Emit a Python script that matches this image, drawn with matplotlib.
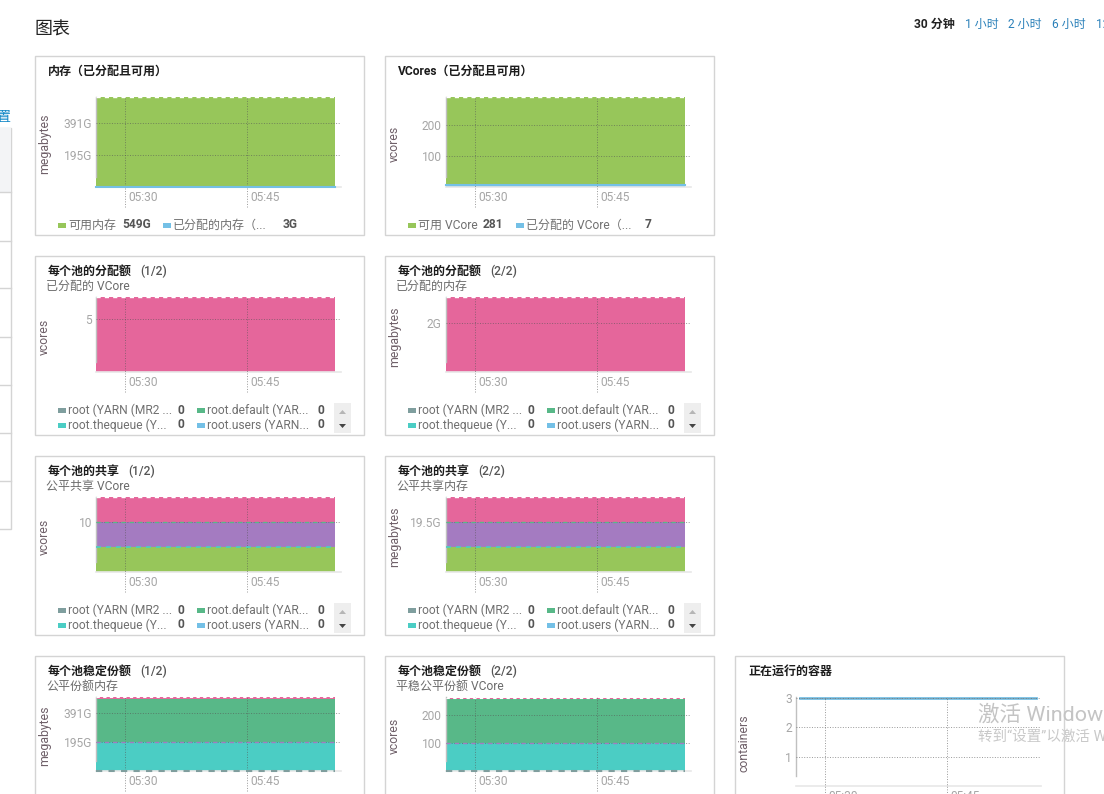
#!/usr/bin/env python
import matplotlib
matplotlib.use('Agg')
import matplotlib.pyplot as plt
import matplotlib.patches as patches
from matplotlib.transforms import ScaledTranslation

plt.rcParams['font.family'] = ['Roboto', 'Noto Sans CJK SC', 'DejaVu Sans']

W, H = 1104, 794
PX = 72.0 / 100  # font size for 1 px at dpi 100

GREEN = '#97c65a'
BLUE = '#74c0e6'
PINK = '#e5669b'
PURPLE = '#a47bc1'
TEAL = '#4bcdc4'
DKGREEN = '#58b888'
GRAY = '#7f9e9e'

# minutes since midnight, 05:26.5 to 05:56
times = [326.5, 332, 338, 344, 350, 355.9]
time_ticks = [330, 345]
time_labels = ['05:30', '05:45']

# memory panel, G
mem_avail = [549, 549, 549, 549, 549, 549]
mem_alloc = [3, 3, 3, 3, 3, 3]
# vcores panel
vc_avail = [281, 281, 281, 281, 281, 281]
vc_alloc = [7, 7, 7, 7, 7, 7]
# allocation per pool
pool_vc = [7, 7, 7, 7, 7, 7]
pool_mem = [3.05, 3.05, 3.05, 3.05, 3.05, 3.05]
# fair share per pool
share_vc_a = [5, 5, 5, 5, 5, 5]
share_vc_b = [5, 5, 5, 5, 5, 5]
share_vc_c = [5, 5, 5, 5, 5, 5]
share_mem_a = [9.75, 9.75, 9.75, 9.75, 9.75, 9.75]
share_mem_b = [9.75, 9.75, 9.75, 9.75, 9.75, 9.75]
share_mem_c = [9.75, 9.75, 9.75, 9.75, 9.75, 9.75]
# steady fair share per pool
steady_mem_a = [195, 195, 195, 195, 195, 195]
steady_mem_b = [288, 288, 288, 288, 288, 288]
steady_mem_c = [12, 12, 12, 12, 12, 12]
steady_vc_a = [100, 100, 100, 100, 100, 100]
steady_vc_b = [155, 155, 155, 155, 155, 155]
steady_vc_c = [6, 6, 6, 6, 6, 6]
# containers
cont_times = [327, 332, 338, 344, 350, 356]
containers = [3, 3, 3, 3, 3, 3]

pool_legend = [('root (YARN (MR2 ...', GRAY, '0'), ('root.default (YAR...', DKGREEN, '0'),
               ('root.thequeue (Y...', TEAL, '0'), ('root.users (YARN...', BLUE, '0')]

fig = plt.figure(figsize=(W / 100, H / 100), dpi=100)
bg = fig.add_axes([0, 0, 1, 1])
bg.set_xlim(0, W)
bg.set_ylim(H, 0)
bg.axis('off')


def label(x, y, s, size=12, color='#666666', weight='normal', ha='left', rotation=0):
	bg.text(x, y, s, fontsize=size * PX, color=color, fontweight=weight, ha=ha, va='center',
		rotation=rotation, clip_on=False)


def rect(x, y, w, h, fc='none', ec='none', lw=1.0):
	bg.add_patch(patches.Rectangle((x, y), w, h, fc=fc, ec=ec, lw=lw))


def chart(px, top, bottom, ylim, yticks, yticklabels, stacks, edges, ylabel, xs=times, line=None):
	left = px + 61
	right = px + 306
	ax = fig.add_axes([left / W, 1 - bottom / H, (right - left) / W, (bottom - top) / H])
	ax.patch.set_alpha(0)
	ax.set_xlim(326.47, 356.6)
	ax.set_ylim(0, ylim)
	base = [0] * len(xs)
	for vals, col in stacks:
		upper = [b + v for b, v in zip(base, vals)]
		ax.fill_between(xs, base, upper, color=col, lw=0, zorder=1)
		base = upper
	for vals, col, lw in edges:
		ax.plot(xs, vals, color=col, lw=lw, ls=(0, (3, 3)), zorder=4, clip_on=False)
	if line is not None:
		ax.plot(xs, line, color=BLUE, lw=2.0, zorder=2, clip_on=False)
		ax.plot(xs, line, color='#8a9aa0', lw=0.7, ls=':', zorder=3, clip_on=False)
	for s in ('top', 'right'):
		ax.spines[s].set_visible(False)
	ax.spines['left'].set_color('#c0c0c0')
	ax.spines['left'].set_linewidth(1.0)
	ax.spines['left'].set_bounds(ylim * 10.0 / (bottom - top), ylim)
	ax.spines['bottom'].set_color('#e8e8e8')
	ax.spines['bottom'].set_linewidth(1.2)
	ax.set_yticks(yticks)
	ax.set_yticklabels(yticklabels, fontsize=12 * PX, color='#a6a6a6')
	ax.set_xticks(time_ticks)
	ax.set_xticklabels(time_labels, fontsize=12 * PX, color='#a6a6a6', ha='left')
	ax.tick_params(axis='both', length=0, pad=3)
	for lab in ax.get_xticklabels():
		lab.set_transform(lab.get_transform() + ScaledTranslation(3.5 / 100, 0, fig.dpi_scale_trans))
	ax.grid(axis='y', color='#555555', alpha=0.6, lw=0.7, ls=':', zorder=3)
	ax.set_axisbelow(False)
	low = -20.0 / (bottom - top)
	for t in time_ticks:
		ax.plot([t, t], [low, 1], transform=ax.get_xaxis_transform(), color='#555555', alpha=0.6,
			lw=0.7, ls=':', zorder=3, clip_on=False)
	label(px + 9.5, (top + bottom) / 2 + 2, ylabel, size=12.3, color='#6e5f68', ha='center', rotation=90)
	return ax


def panel(px, py, title, extra=None, extra_x=0, subtitle=None):
	rect(px, py, 329, 179, fc='white', ec='#d4d4d4', lw=1.0)
	if subtitle is None:
		label(px + 13, py + 15, title, weight='bold', color='#1c1c1c')
	else:
		label(px + 13, py + 15, title, weight='bold', color='#1c1c1c')
		label(px + 11, py + 30, subtitle, color='#6b6b6b')
	if extra:
		label(px + extra_x, py + 15, extra, color='#555555', weight='medium')


def swatch(x, y, col):
	rect(x, y - 2.5, 8, 5, fc=col)


def pool_legend_block(px, py):
	for i, (name, col, val) in enumerate(pool_legend):
		cx = px + (23 if i % 2 == 0 else 162)
		y = py + (154 if i < 2 else 169)
		swatch(cx, y, col)
		label(cx + 10, y, name, color='#707070')
		label(cx + 120, y, val, color='#555555', weight='bold')
	rect(px + 299, py + 147, 17, 30, fc='#eeeeee')
	bg.add_patch(patches.Polygon([[px + 304, py + 158], [px + 311, py + 158], [px + 307.5, py + 154]], fc='#b5b5b5'))
	bg.add_patch(patches.Polygon([[px + 304, py + 168], [px + 311, py + 168], [px + 307.5, py + 172]], fc='#444444'))


# page furniture
label(35, 30, '图表', size=18, color='#222222')
rows_y = [192, 240.5, 288, 336.5, 384.5, 432.5, 481]
rect(-2, 128, 13, 400.5, fc='white', ec='#d4d4d4', lw=1.0)
rect(-2, 128, 12.5, 64, fc='#f3f4f6')
for ry in rows_y:
	bg.plot([0, 11], [ry, ry], color='#d4d4d4', lw=1.0)
label(11, 117, '设置', size=14, color='#0f86c6', ha='right')
label(914, 24, '30 分钟', color='#222222', weight='bold')
for x, s in [(965, '1 小时'), (1008, '2 小时'), (1052, '6 小时'), (1096, '12 小时')]:
	label(x, 24, s, color='#2a80b9')

col1, col2, col3 = 35, 385, 735

# row 1
panel(col1, 56, '内存（已分配且可用）')
ax = chart(col1, 97, 187, 553, [195, 391], ['195G', '391G'],
	[(mem_alloc, BLUE), (mem_avail, GREEN)], [([552] * 6, 'white', 1.0)], 'megabytes')
ax.plot(times, mem_alloc, color=BLUE, lw=1.5, zorder=4, clip_on=False)
swatch(58, 225, GREEN)
label(68, 225, '可用内存', color='#707070')
label(122, 225, '549G', color='#555555', weight='bold')
swatch(163, 225, BLUE)
label(173, 225, '已分配的内存（...', color='#707070')
label(283, 225, '3G', color='#555555', weight='bold')

panel(col2, 56, 'VCores（已分配且可用）')
ax = chart(col2, 97, 187, 289, [100, 200], ['100', '200'],
	[(vc_alloc, BLUE), (vc_avail, GREEN)], [([288] * 6, 'white', 1.0)], 'vcores')
ax.plot(times, vc_alloc, color=BLUE, lw=1.5, zorder=4, clip_on=False)
swatch(408, 225, GREEN)
label(418, 225, '可用 VCore', color='#707070')
label(483, 225, '281', color='#555555', weight='bold')
swatch(516, 225, BLUE)
label(526, 225, '已分配的 VCore（...', color='#707070')
label(645, 225, '7', color='#555555', weight='bold')

# row 2
panel(col1, 256, '每个池的分配额', '(1/2)', 105, '已分配的 VCore')
chart(col1, 297, 372, 7.02, [5], ['5'], [(pool_vc, PINK)], [(pool_vc, 'white', 1.0)], 'vcores')
pool_legend_block(col1, 256)
panel(col2, 256, '每个池的分配额', '(2/2)', 105, '已分配的内存')
chart(col2, 297, 372, 3.06, [2], ['2G'], [(pool_mem, PINK)], [(pool_mem, 'white', 1.0)], 'megabytes')
pool_legend_block(col2, 256)

# row 3
panel(col1, 456, '每个池的共享', '(1/2)', 93, '公平共享 VCore')
chart(col1, 497, 572, 15, [10], ['10'],
	[(share_vc_a, GREEN), (share_vc_b, PURPLE), (share_vc_c, PINK)],
	[([5] * 6, TEAL, 1.2), ([10] * 6, DKGREEN, 1.0), ([15] * 6, 'white', 1.0)], 'vcores')
pool_legend_block(col1, 456)
panel(col2, 456, '每个池的共享', '(2/2)', 93, '公平共享内存')
chart(col2, 497, 572, 29.25, [19.5], ['19.5G'],
	[(share_mem_a, GREEN), (share_mem_b, PURPLE), (share_mem_c, PINK)],
	[([9.75] * 6, TEAL, 1.2), ([19.5] * 6, DKGREEN, 1.0), ([29.25] * 6, 'white', 1.0)], 'megabytes')
pool_legend_block(col2, 456)

# row 4, runs off the bottom of the picture
panel(col1, 656, '每个池稳定份额', '(1/2)', 105, '公平份额内存')
ax = chart(col1, 697, 771, 497, [195, 391], ['195G', '391G'],
	[(steady_mem_a, TEAL), (steady_mem_b, DKGREEN), (steady_mem_c, PINK)],
	[([2] * 6, GRAY, 1.5), ([195] * 6, PURPLE, 1.0), ([495] * 6, 'white', 0.8)], 'megabytes')
panel(col2, 656, '每个池稳定份额', '(2/2)', 105, '平稳公平份额 VCore')
ax = chart(col2, 697, 771, 263, [100, 200], ['100', '200'],
	[(steady_vc_a, TEAL), (steady_vc_b, DKGREEN), (steady_vc_c, PINK)],
	[([1] * 6, GRAY, 1.5), ([100] * 6, PURPLE, 1.0), ([261] * 6, 'white', 0.8)], 'vcores')
panel(col3, 656, '正在运行的容器')
chart(col3, 697, 786, 3.03, [1, 2, 3], ['1', '2', '3'], [], [], 'containers', xs=cont_times, line=containers)

# windows watermark sits on top of everything
fig.text(978 / W, 1 - 714 / H, '激活 Windows', fontsize=21.5 * PX, color='#c4c4c4', va='center', zorder=10)
fig.text(978 / W, 1 - 737 / H, '转到“设置”以激活 Windows', fontsize=14.5 * PX, color='#c9c9c9', va='center', zorder=10)

fig.savefig('out.png', dpi=100)
